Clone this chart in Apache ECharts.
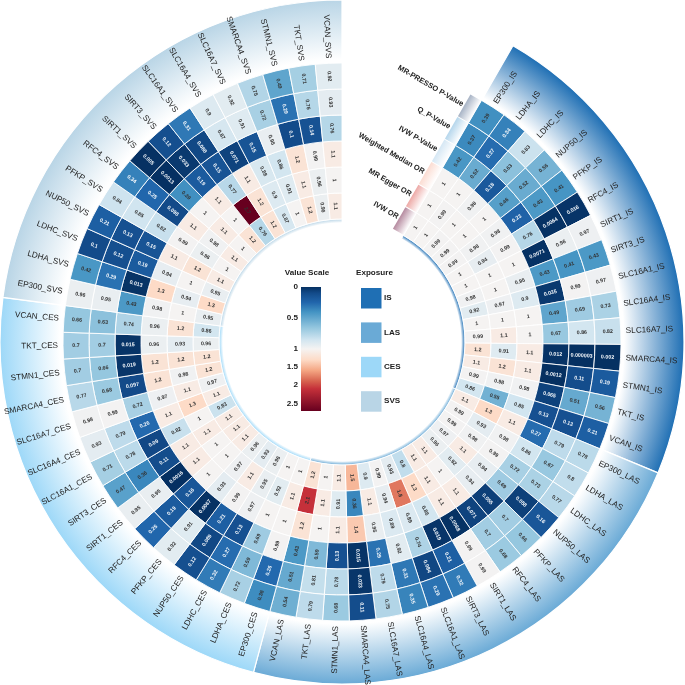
<!DOCTYPE html>
<html>
<head>
<meta charset="utf-8">
<style>html,body{margin:0;padding:0;background:#fff}#chart{width:685px;height:685px}</style>
<script src="https://cdn.jsdelivr.net/npm/echarts@6/dist/echarts.min.js"></script>
</head>
<body>
<div id="chart"></div>
<script>
const genes = ['EP300','LDHA','LDHC','NUP50','PFKP','RFC4','SIRT1','SIRT3','SLC16A1','SLC16A4','SLC16A7','SMARCA4','STMN1','TKT','VCAN'];
const exposures = ['IS','LAS','CES','SVS'];
const exposureColors = ['#1f6fb4','#6aaad6','#9dd8f8','#b9d5e6'];
const rowNames = ['IVW OR','MR Egger OR','Weighted Median OR','IVW P-Value','Q_P-Value','MR-PRESSO P-Value'];
const rowKeyColors = ['#b58a9f','#eda9a6','#fbdcd2','#d5e7f4','#b5d6ec','#a7b3c5'];

// Each ring lists its cells clockwise: IS, LAS, CES, SVS, and the genes in order inside each exposure.
const ivwOr = [
  1,1,0.99,0.99,0.99,1,1,0.98,0.92,1,0.99,1.2,1.1,0.99,0.86,
  1.1,0.99,0.99,0.97,0.96,1.1,1.1,0.8,0.93,0.99,0.9,1.5,1.1,1,1.2,
  1,1,0.96,0.93,0.96,1.1,1.1,1.1,0.83,1.1,0.97,1.2,1.2,0.96,0.86,
  0.95,1.3,0.95,1.1,1,1.1,1,1.2,0.76,1.2,0.87,1,1.2,0.96,1.1];
const mrEggerOr = [
  1,0.99,1,1,0.98,0.94,1,1,0.97,1,1.1,0.91,1.2,0.98,0.55,
  1.3,0.93,0.98,1.1,0.92,1,1.1,1.3,1.8,0.94,1.1,0.36,0.91,1.1,2.1,
  1.1,0.92,0.95,1.1,0.97,1,1,1.1,1,1.3,1.1,0.98,1.2,0.93,1.2,
  1,0.94,1,1.2,0.96,0.98,1.1,1,2.7,1.2,0.9,0.91,1.1,0.96,1];
const weightedMedianOr = [
  1,1,0.98,1,0.98,0.99,1,0.95,0.9,1,1,1.1,1.1,0.98,0.85,
  1.1,0.98,0.99,0.94,0.94,1.1,1.1,0.86,0.89,0.89,0.95,1.4,1.1,1,1.2,
  1,1,0.97,0.99,0.93,1,1.1,1.1,0.82,1.1,0.97,1.2,1.2,0.96,0.96,
  0.98,1.3,0.94,1.1,0.99,1.1,1,1.1,0.77,1.1,0.88,0.86,1.2,0.99,1.1];
const ivwP = [
  0.42,0.52,0.18,0.46,0.23,0.76,0.0071,0.43,0.035,0.49,0.67,0.012,0.0012,0.065,0.13,
  0.27,0.86,0.72,0.69,0.055,0.071,0.0068,0.019,0.74,0.92,0.29,0.015,0.13,0.59,0.43,
  0.99,0.69,0.13,0.21,0.0067,0.16,0.0016,0.11,0.09,0.26,0.72,0.097,0.019,0.015,0.74,
  0.43,0.013,0.19,0.15,0.82,0.098,0.39,0.19,0.15,0.071,0.15,0.95,0.1,0.14,0.76];
const qP = [
  0.37,0.27,0.63,0.52,0.43,0.0064,0.96,0.41,0.99,0.69,0.86,0.000003,0.11,0.51,0.13,
  0.79,0.67,0.73,0.058,0.7,0.7,0.99,0.21,0.084,0.31,0.79,0.023,0.78,0.81,0.51,
  0.26,0.59,0.27,0.089,0.91,0.19,0.95,0.36,0.78,0.79,0.99,0.68,0.66,0.7,0.63,
  0.95,0.29,0.12,0.13,0.85,0.25,0.0013,0.033,0.088,0.87,0.91,0.72,0.29,0.76,0.93];
const mrPressoP = [
  0.39,0.34,0.83,0.56,0.41,0.016,0.97,0.43,0.97,0.73,0.82,0.002,0.19,0.56,0.21,
  0.78,0.8,0.77,0.16,0.66,0.68,0.99,0.32,0.29,0.35,0.75,0.11,0.68,0.79,0.54,
  0.38,0.72,0.32,0.12,0.92,0.25,0.95,0.47,0.71,0.93,0.98,0.77,0.7,0.7,0.66,
  0.96,0.42,0.1,0.21,0.84,0.34,0.005,0.12,0.31,0.9,0.92,0.75,0.49,0.71,0.92];
const rings = [ivwOr, mrEggerOr, weightedMedianOr, ivwP, qP, mrPressoP];

// Colour scale of the cells, with the legend bar position of each stop.
const scaleValues = [0,0.1,0.25,0.4,0.65,0.85,1,1.3,1.6,1.9,2.1,2.7];
const scaleColors = ['#053061','#134b8a','#2166ac','#4393c3','#92c5de','#d1e5f0','#f5f3f2','#fddbc7','#f4a582','#d6604d','#c5303a','#67001f'];
const scaleTicks = [0,0.5,1,1.5,2,2.5];

const CENTER = 342, CELL_R0 = 123, CELL_R1 = 279, BAND_R = 342, GLOW_R = 119, FADE_R = 282;
const CELL_DEGREES = 82.5 / genes.length;
const LABEL_FONT = '"Liberation Sans", Arial, sans-serif';

function hexToRgb(h) { return [1,3,5].map(i => parseInt(h.substr(i,2),16)); }
function valueColor(v) {
  for (let i = 1; i < scaleValues.length; i++) {
    if (v <= scaleValues[i]) {
      const t = (v - scaleValues[i-1]) / (scaleValues[i] - scaleValues[i-1]);
      const a = hexToRgb(scaleColors[i-1]), b = hexToRgb(scaleColors[i]);
      return 'rgb(' + a.map((c,k) => Math.round(c + (b[k]-c)*t)).join(',') + ')';
    }
  }
  return scaleColors[scaleColors.length-1];
}

// Legend bar is stretched below 1 and compressed above it.
const barTicksY = [[0,287],[0.5,318],[1,349],[1.5,367],[2,385],[2.5,404],[2.7,411]];
function barY(v) {
  for (let i = 1; i < barTicksY.length; i++) {
    if (v <= barTicksY[i][0]) {
      const [v0,y0] = barTicksY[i-1], [v1,y1] = barTicksY[i];
      return y0 + (v-v0)/(v1-v0)*(y1-y0);
    }
  }
  return 411;
}

// Text follows the radius: outward on the right half, inward on the left half.
function radialText(cx, cy, r, a, text, font, fill, align) {
  const right = Math.cos(a) >= 0;
  return {
    type: 'text',
    x: cx + r*Math.cos(a), y: cy - r*Math.sin(a),
    rotation: right ? a : a + Math.PI,
    silent: true,
    style: { text, font, fill, align: align === 'outer' ? (right ? 'left' : 'right') : 'center', verticalAlign: 'middle' }
  };
}

const cellData = [];
rings.forEach((ring, r) => ring.forEach((v, c) => cellData.push([r, c + 0.5, v])));

function renderCell(params, api) {
  const v = api.value(2);
  const co = api.coord([api.value(0), api.value(1)]);
  const size = api.size([1, 1], [api.value(0), api.value(1)]);
  const cs = params.coordSys;
  return {
    type: 'group',
    children: [
      { type: 'sector',
        shape: { cx: cs.cx, cy: cs.cy, r0: co[2]-size[0]/2, r: co[2]+size[0]/2,
                 startAngle: -co[3]-size[1]/2, endAngle: -co[3]+size[1]/2 },
        style: { fill: valueColor(v), stroke: '#fff', lineWidth: 0.9 } },
      radialText(cs.cx, cs.cy, co[2], co[3], String(v), 'bold 5.3px ' + LABEL_FONT, v < 0.36 ? '#f2f6fa' : '#333', 'center')
    ]
  };
}

function renderBand(params, api) {
  const i = params.dataIndex, cs = params.coordSys;
  const from = api.coord([0, i*genes.length])[3], to = api.coord([0, (i+1)*genes.length])[3];
  const color = exposureColors[i];
  const band = { cx: cs.cx, cy: cs.cy, startAngle: -from, endAngle: -to };
  return {
    type: 'group',
    children: [
      { type: 'sector',
        shape: Object.assign({ r0: CELL_R1 + 1, r: BAND_R }, band),
        style: { stroke: '#fff', lineWidth: 1.2, fill: { type: 'radial', x: cs.cx, y: cs.cy, r: BAND_R, global: true,
          colorStops: [{offset:FADE_R/BAND_R,color:'#fff'},{offset:1,color:color}] } } },
      { type: 'sector',
        shape: Object.assign({ r0: GLOW_R, r: CELL_R0 }, band),
        style: { stroke: '#fff', lineWidth: 0.8, fill: { type: 'radial', x: cs.cx, y: cs.cy, r: CELL_R0, global: true,
          colorStops: [{offset:GLOW_R/CELL_R0,color:'#fff'},{offset:1,color:color}] } } }
    ]
  };
}

function renderGeneLabel(params, api) {
  const cs = params.coordSys, a = api.coord([0, api.value(1)])[3];
  const name = genes[params.dataIndex % genes.length] + '_' + exposures[Math.floor(params.dataIndex / genes.length)];
  return radialText(cs.cx, cs.cy, CELL_R1 + 5, a, name, '8.2px ' + LABEL_FONT, '#222', 'outer');
}

// Small colour key and name for each ring, sitting just before the first column.
function renderRowKey(params, api) {
  const i = params.dataIndex, cs = params.coordSys;
  const co = api.coord([i, 0]), half = api.size([1, 1], [i, 0])[0]/2, a = co[3];
  const width = 12.5;
  const pt = (r, w) => [cs.cx + r*Math.cos(a) - w*Math.sin(a), cs.cy - r*Math.sin(a) - w*Math.cos(a)];
  const p0 = pt(co[2]-half+0.5, 0), p1 = pt(co[2]+half-0.5, 0), p2 = pt(co[2]+half-0.5, width), p3 = pt(co[2]-half+0.5, width);
  const mid = pt(co[2], width + 1.5);
  return {
    type: 'group',
    children: [
      { type: 'polygon', shape: { points: [p0,p1,p2,p3] },
        style: { fill: { type:'linear', x:p3[0], y:p3[1], x2:p0[0], y2:p0[1], global:true,
          colorStops:[{offset:0,color:rowKeyColors[i]},{offset:1,color:'#fff'}] } } },
      { type: 'text', x: mid[0], y: mid[1], rotation: a - Math.PI/2, silent: true,
        style: { text: rowNames[i], font: 'bold 7.5px ' + LABEL_FONT, fill: '#222', align: 'right', verticalAlign: 'middle' } }
    ]
  };
}

// Legend drawn in the hole of the ring.
const graphics = [
  { type:'text', x:307, y:273, style:{ text:'Value Scale', font:'bold 8.1px '+LABEL_FONT, fill:'#222', align:'center', verticalAlign:'middle' } },
  { type:'text', x:356, y:273, style:{ text:'Exposure', font:'bold 8.1px '+LABEL_FONT, fill:'#222', align:'left', verticalAlign:'middle' } },
  { type:'rect', shape:{ x:301, y:287, width:20, height:124 },
    style:{ fill:{ type:'linear', x:0, y:0, x2:0, y2:1,
      colorStops: scaleValues.map((v,i) => ({ offset:(barY(v)-287)/124, color:scaleColors[i] })) } } }
];
scaleTicks.forEach(t => graphics.push({ type:'text', x:298, y:barY(t),
  style:{ text:String(t), font:'bold 8.1px '+LABEL_FONT, fill:'#222', align:'right', verticalAlign:'middle' } }));
exposures.forEach((name, i) => {
  const y = 288 + i*34.4;
  graphics.push({ type:'rect', shape:{ x:361, y, width:20.5, height:20.5 }, style:{ fill:exposureColors[i] } });
  graphics.push({ type:'text', x:384, y:y+10, style:{ text:name, font:'bold 8.1px '+LABEL_FONT, fill:'#222', align:'left', verticalAlign:'middle' } });
});

const chart = echarts.init(document.getElementById('chart'), null, { renderer: 'canvas' });
chart.setOption({
  animation: false,
  backgroundColor: '#fff',
  polar: { center: [CENTER, CENTER], radius: [CELL_R0, CELL_R1] },
  angleAxis: { type:'value', min:0, max:360/CELL_DEGREES, startAngle:60, clockwise:true, show:false },
  radiusAxis: { type:'category', data:rowNames, show:false },
  series: [
    { type:'custom', coordinateSystem:'polar', encode:{radius:0, angle:1}, silent:true, z:1,
      data: exposures.map((n,i) => [0, (i+0.5)*genes.length]), renderItem: renderBand },
    { type:'custom', coordinateSystem:'polar', encode:{radius:0, angle:1}, silent:true, z:2,
      data: cellData, renderItem: renderCell },
    { type:'custom', coordinateSystem:'polar', encode:{radius:0, angle:1}, silent:true, z:3,
      data: exposures.flatMap((n,i) => genes.map((g,k) => [0, i*genes.length + k + 0.5])), renderItem: renderGeneLabel },
    { type:'custom', coordinateSystem:'polar', encode:{radius:0, angle:1}, silent:true, z:3,
      data: rowNames.map((n,r) => [r, 0]), renderItem: renderRowKey }
  ],
  graphic: graphics
});
</script>
</body>
</html>
